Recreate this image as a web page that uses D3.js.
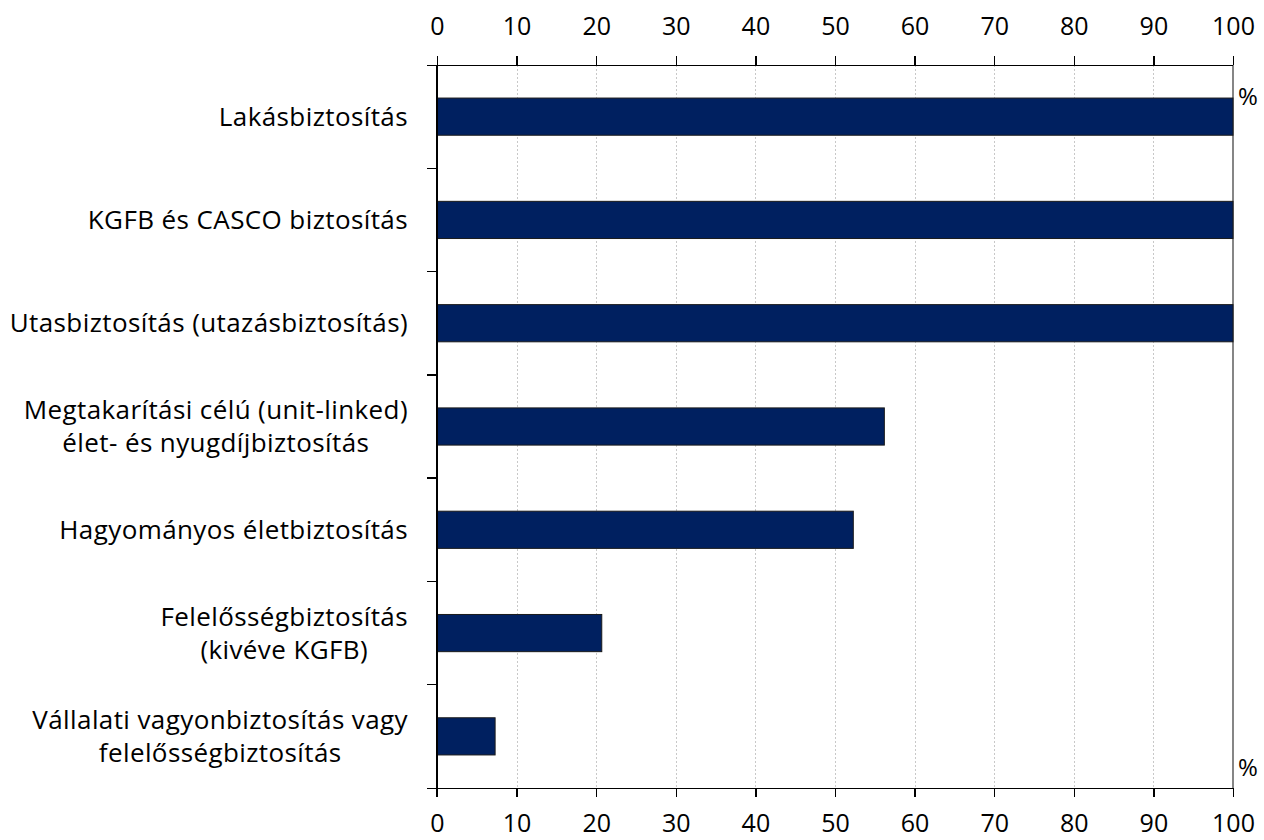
<!DOCTYPE html>
<html lang="hu">
<head>
<meta charset="utf-8">
<title>Biztosítások</title>
<script src="https://cdn.jsdelivr.net/npm/d3@7"></script>
<style>
body { margin: 0; background: #fff; }
text { font-family: "Open Sans", Lato, sans-serif; fill: #000; }
.axis path, .axis line { stroke: #000; stroke-width: 1.3px; shape-rendering: crispEdges; }
.grid line { stroke: #c8c8c8; stroke-dasharray: 2,2; shape-rendering: crispEdges; }
.bar { fill: #002060; stroke: #1a1a1a; stroke-width: 1px; }
</style>
</head>
<body>
<svg width="1264" height="840"></svg>
<script>
// categories (top to bottom), label lines split by "|"
var categories = [
  "Lakásbiztosítás",
  "KGFB és CASCO biztosítás",
  "Utasbiztosítás (utazásbiztosítás)",
  "Megtakarítási célú (unit-linked)|élet- és nyugdíjbiztosítás",
  "Hagyományos életbiztosítás",
  "Felelősségbiztosítás|(kivéve KGFB)",
  "Vállalati vagyonbiztosítás vagy|felelősségbiztosítás"
];
var values = [100, 100, 100, 56.2, 52.3, 20.7, 7.3];
var xTicks = [0, 10, 20, 30, 40, 50, 60, 70, 80, 90, 100];
var unit = "%";

var svg = d3.select("svg"),
    margin = {top: 65, right: 31, bottom: 52, left: 437},
    width = +svg.attr("width") - margin.left - margin.right,
    height = +svg.attr("height") - margin.top - margin.bottom;

var x = d3.scaleLinear().domain([0, 100]).range([0, width]);
var y = d3.scaleBand().domain(categories).range([0, height]).paddingInner(0.64).paddingOuter(0.32);
var band = d3.scaleBand().domain(categories).range([0, height]);

var g = svg.append("g")
    .attr("transform", "translate(" + margin.left + "," + margin.top + ")");

// dotted gridlines
g.append("g").attr("class", "grid")
  .selectAll("line")
  .data(xTicks.filter(function(d) { return d > 0 && d < 100; }))
  .enter().append("line")
    .attr("x1", function(d) { return Math.round(x(d)) + 0.5; })
    .attr("x2", function(d) { return Math.round(x(d)) + 0.5; })
    .attr("y1", 0)
    .attr("y2", height);

// right border
g.append("line")
  .attr("x1", x(100)).attr("x2", x(100))
  .attr("y1", 0).attr("y2", height)
  .attr("stroke", "#444").attr("stroke-width", 1.3);

// bars
g.selectAll(".bar")
  .data(values)
  .enter().append("rect")
    .attr("class", "bar")
    .attr("x", 0)
    .attr("y", function(d, i) { return y(categories[i]); })
    .attr("height", y.bandwidth())
    .attr("width", function(d) { return x(d); });

// top & bottom axes
var axTop = g.append("g").attr("class", "axis")
  .call(d3.axisTop(x).tickValues(xTicks).tickSizeInner(9).tickSizeOuter(0).tickPadding(21));
var axBottom = g.append("g").attr("class", "axis")
  .attr("transform", "translate(0," + height + ")")
  .call(d3.axisBottom(x).tickValues(xTicks).tickSizeInner(9).tickSizeOuter(0).tickPadding(17));
[axTop, axBottom].forEach(function(a) {
  a.selectAll("text").style("font-size", "25px").style("font-family", "'Open Sans', sans-serif").attr("fill", "#000");
  a.select(".domain").attr("d", "M-10,0.5H" + width);
});

// left axis: line + ticks at category boundaries
var left = g.append("g").attr("class", "axis");
left.append("line").attr("x1", 0).attr("x2", 0).attr("y1", 0).attr("y2", height + 9);
left.selectAll(".sep")
  .data(categories.slice(1))
  .enter().append("line")
    .attr("x1", -10).attr("x2", 0)
    .attr("y1", function(d) { return band(d); })
    .attr("y2", function(d) { return band(d); });

// category labels (multi-line, centred within right-aligned block)
var labels = g.append("g").attr("class", "labels");
categories.forEach(function(c) {
  var lines = c.split("|");
  var cy = band(c) + band.bandwidth() / 2;
  var t = labels.append("text")
    .style("font-size", "26px")
    .style("letter-spacing", "0.4px")
    .attr("text-anchor", "middle");
  lines.forEach(function(l, i) {
    t.append("tspan").text(l)
      .attr("y", cy + (i - (lines.length - 1) / 2) * 33)
      .attr("dy", "0.35em");
  });
  var w = d3.max(t.selectAll("tspan").nodes(), function(n) { return n.getComputedTextLength(); });
  t.selectAll("tspan").attr("x", -29 - w / 2);
});

// unit labels
g.append("text").attr("x", x(100) + 5).attr("y", 32).attr("dy", "0.35em")
  .style("font-size", "24px").text(unit);
g.append("text").attr("x", x(100) + 5).attr("y", height - 20).attr("dy", "0.35em")
  .style("font-size", "24px").text(unit);
</script>
</body>
</html>
